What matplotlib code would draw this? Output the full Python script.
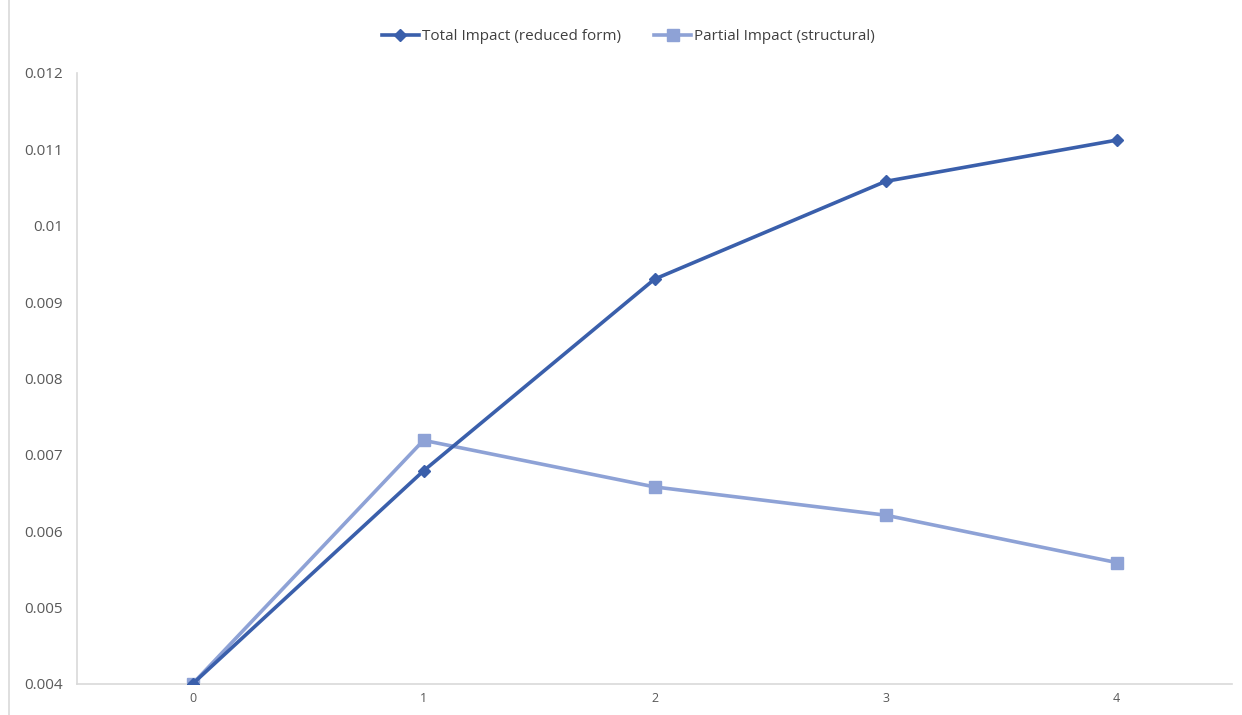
import matplotlib
matplotlib.use('Agg')
import matplotlib.pyplot as plt
from matplotlib.lines import Line2D

# horizons and impact estimates
horizon = [0, 1, 2, 3, 4]
total_impact = [0.0040, 0.00679, 0.00930, 0.01058, 0.01112]
partial_impact = [0.0040, 0.00719, 0.00658, 0.00621, 0.00559]
y_ticks = [0.004, 0.005, 0.006, 0.007, 0.008, 0.009, 0.01, 0.011, 0.012]
y_labels = ['0.004', '0.005', '0.006', '0.007', '0.008', '0.009', '0.01', '0.011', '0.012']

plt.rcParams['font.family'] = ['Open Sans', 'DejaVu Sans']

fig = plt.figure(figsize=(12.42, 7.15), dpi=100)
ax = fig.add_axes([0.062, 0.0434, 0.930, 0.8546])

c_total = '#3A5FAB'
c_partial = '#8EA2D6'

ax.plot(horizon, partial_impact, color=c_partial, lw=2.6, marker='s', ms=9,
        label='Partial Impact (structural)', zorder=2)
ax.plot(horizon, total_impact, color=c_total, lw=2.6, marker='D', ms=6.5,
        label='Total Impact (reduced form)', zorder=3)

ax.set_xlim(-0.5, 4.5)
ax.set_ylim(0.004, 0.012)
ax.set_xticks(horizon)
ax.set_xticklabels([str(h) for h in horizon], fontsize=9, color='#595959')
ax.set_yticks(y_ticks)
ax.set_yticklabels(y_labels, fontsize=11, color='#595959')
ax.tick_params(axis='both', length=0)
ax.tick_params(axis='x', pad=6)
ax.tick_params(axis='y', pad=10)

for s in ['top', 'right']:
    ax.spines[s].set_visible(False)
for s in ['left', 'bottom']:
    ax.spines[s].set_color('#D9D9D9')
    ax.spines[s].set_linewidth(1.2)

handles = [Line2D([], [], color=c_total, lw=2.6, marker='D', ms=6.5),
           Line2D([], [], color=c_partial, lw=2.6, marker='s', ms=9)]
fig.legend(handles, ['Total Impact (reduced form)', 'Partial Impact (structural)'],
           loc='center', bbox_to_anchor=(0.506, 0.949), ncol=2, frameon=False,
           fontsize=11, handlelength=2.4, handletextpad=0.2, columnspacing=2.2,
           labelcolor='#404040')

# chart area border on the left edge
fig.add_artist(Line2D([0.0075, 0.0075], [0, 1], transform=fig.transFigure,
                      color='#D9D9D9', lw=1.2))

fig.savefig('out.png', dpi=100)
